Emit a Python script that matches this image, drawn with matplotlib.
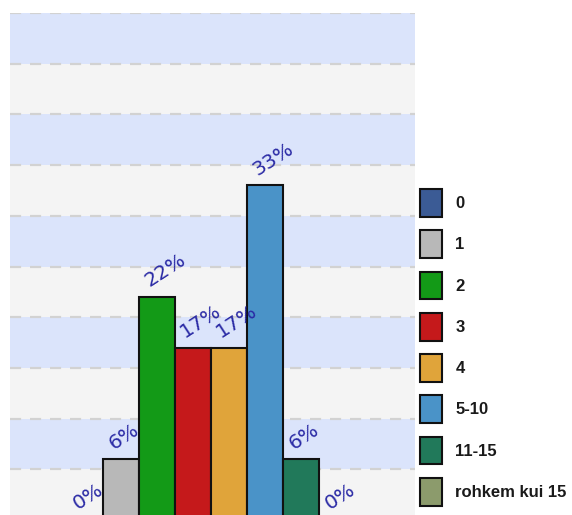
import matplotlib
matplotlib.use("Agg")
import matplotlib.pyplot as plt
from matplotlib.patches import Patch

categories = ["0", "1", "2", "3", "4", "5-10", "11-15", "rohkem kui 15"]
values = [0, 6, 22, 17, 17, 33, 6, 0]
labels = ["0%", "6%", "22%", "17%", "17%", "33%", "6%", "0%"]
colors = ["#3b5b95", "#b8b8b8", "#139a17", "#c5191b", "#e0a43a",
          "#4a93c8", "#21795a", "#8c9b6c"]

W, H = 572, 515
fig = plt.figure(figsize=(W / 100, H / 100), dpi=100)
ax = fig.add_axes([10 / W, 1 - 520 / H, 405 / W, 507 / H])
ax.set_ylim(0, 50)
ax.set_xlim(-2.08, 9.17)

# banded background
for i, y0 in enumerate(range(0, 50, 5)):
    c = "#f4f4f4" if i % 2 == 0 else "#dbe4fb"
    ax.axhspan(y0, y0 + 5, color=c, zorder=0, lw=0)
for y in range(5, 51, 5):
    ax.axhline(y, color="#d2d2d2", lw=1.6, ls=(0, (5, 4)), zorder=1)

x = list(range(len(categories)))
bars = ax.bar(x, values, width=1.0, color=colors, edgecolor="#111111",
              linewidth=1.5, zorder=2)

for xi, v, lab in zip(x, values, labels):
    ax.annotate(lab, xy=(xi, v), xytext=(-4, 4.5), textcoords="offset points",
                rotation=33, rotation_mode="anchor", ha="left", va="bottom",
                color="#2a2aa5", fontsize=14.5,
                family=["DejaVu Sans"], zorder=3)

for s in ax.spines.values():
    s.set_visible(False)
ax.set_xticks([])
ax.set_yticks([])

handles = [Patch(facecolor=c, edgecolor="#111111", linewidth=1.5) for c in colors]
fs = 12
fpx = fs * 100 / 72
fig.legend(handles, categories, loc="upper left",
           bbox_to_anchor=(420 / W, 1 - 189 / H), frameon=False,
           borderpad=0, borderaxespad=0,
           handlelength=22 / fpx, handleheight=2.2,
           labelspacing=0.8, handletextpad=0.8, labelcolor="#1a1a1a",
           prop={"family": ["Liberation Sans", "DejaVu Sans"],
                 "weight": "bold", "size": fs})

fig.savefig("out.png", dpi=100)
